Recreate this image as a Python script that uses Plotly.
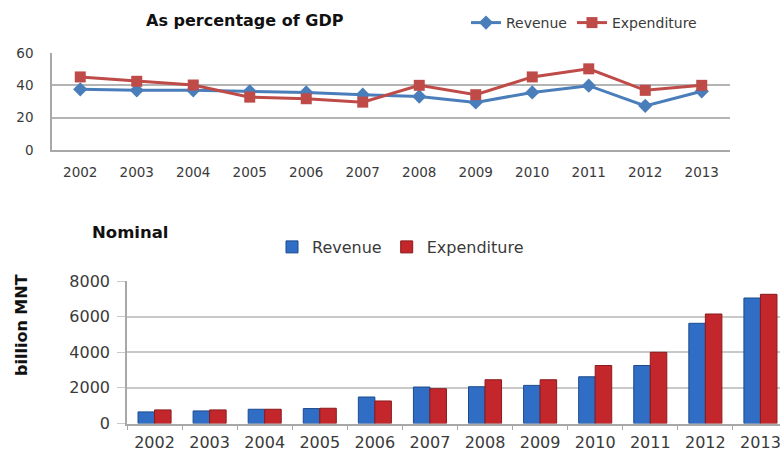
import plotly.graph_objects as go

# Fiscal data, 2002-2013
years = [str(y) for y in range(2002, 2014)]

# Revenue and expenditure as percentage of GDP
gdp_revenue = [37.5, 36.9, 36.9, 36.3, 35.6, 34.2, 33.1, 29.4, 35.6, 39.8, 27.3, 36.3]
gdp_expenditure = [45.2, 42.5, 40.2, 32.7, 31.7, 29.6, 40.0, 34.2, 45.2, 50.2, 36.9, 40.0]

# Nominal revenue and expenditure, billion MNT
nominal_revenue = [651, 707, 800, 837, 1488, 2047, 2065, 2140, 2623, 3256, 5625, 7045]
nominal_expenditure = [763, 763, 800, 856, 1265, 1953, 2456, 2456, 3256, 3997, 6147, 7253]

W, H = 780, 459
FONT = "DejaVu Sans"
TICK_COLOR = "#3a3a3a"
BLUE_LINE = "#4a7ebb"
RED_LINE = "#be4b48"
BLUE_BAR = "#2f6ec4"
RED_BAR = "#c4272b"

fig = go.Figure()

# Upper panel: shares of GDP
fig.add_trace(go.Scatter(
    x=years, y=gdp_revenue, name="Revenue", mode="lines+markers",
    line=dict(color=BLUE_LINE, width=3),
    marker=dict(symbol="diamond", size=11, color=BLUE_LINE),
    xaxis="x", yaxis="y", legend="legend",
))
fig.add_trace(go.Scatter(
    x=years, y=gdp_expenditure, name="Expenditure", mode="lines+markers",
    line=dict(color=RED_LINE, width=3),
    marker=dict(symbol="square", size=11, color=RED_LINE),
    xaxis="x", yaxis="y", legend="legend",
))

# Lower panel: nominal values
fig.add_trace(go.Bar(
    x=years, y=nominal_revenue, name="Revenue",
    marker=dict(color=BLUE_BAR, line=dict(color="#1d4a8c", width=1)),
    xaxis="x2", yaxis="y2", legend="legend2",
))
fig.add_trace(go.Bar(
    x=years, y=nominal_expenditure, name="Expenditure",
    marker=dict(color=RED_BAR, line=dict(color="#8a1a1c", width=1)),
    xaxis="x2", yaxis="y2", legend="legend2",
))

axis_gray = "#a8a8a8"
grid_top = "#b4b4b4"
grid_bottom = "#c9c9c9"

fig.update_layout(
    width=W, height=H,
    margin=dict(l=0, r=0, t=0, b=0, autoexpand=False),
    paper_bgcolor="white", plot_bgcolor="white",
    barmode="group", bargap=0.4, bargroupgap=0.0,
    font=dict(family=FONT, color=TICK_COLOR),
    xaxis=dict(
        domain=[52 / W, 730 / W], anchor="y", type="category",
        range=[-0.5, 11.5], showgrid=False,
        showline=True, linecolor=axis_gray, linewidth=1.5,
        ticks="", tickfont=dict(family=FONT, size=13.5, color=TICK_COLOR),
        ticklabelstandoff=9,
    ),
    yaxis=dict(
        domain=[1 - 150 / H, 1 - 53 / H], anchor="x",
        range=[0, 60], dtick=20, showgrid=True, gridcolor=grid_top, gridwidth=1.5,
        zeroline=False, showline=True, linecolor=axis_gray, linewidth=1.5,
        ticks="", tickfont=dict(family=FONT, size=13.5, color=TICK_COLOR),
        ticklabelstandoff=14,
    ),
    xaxis2=dict(
        domain=[127 / W, 1.0], anchor="y2", type="category",
        range=[-0.5, 11.355], showgrid=False,
        showline=True, linecolor=axis_gray, linewidth=1.5,
        ticks="outside", tickson="boundaries", ticklen=5, tickcolor=axis_gray,
        tickfont=dict(family=FONT, size=16, color=TICK_COLOR),
        ticklabelstandoff=4,
    ),
    yaxis2=dict(
        domain=[1 - 423.5 / H, 1 - 281 / H], anchor="x2",
        range=[0, 8000], dtick=2000, showgrid=True, gridcolor=grid_bottom, gridwidth=1.5,
        zeroline=False, showline=True, linecolor=axis_gray, linewidth=1.5,
        ticks="outside", ticklen=8, tickcolor=grid_bottom,
        tickfont=dict(family=FONT, size=16, color=TICK_COLOR),
        ticklabelstandoff=4,
    ),
    legend=dict(
        orientation="h", x=466 / W, xanchor="left", y=1 - 23 / H, yanchor="middle",
        font=dict(family=FONT, size=14, color=TICK_COLOR),
        bgcolor="rgba(0,0,0,0)", itemclick=False, itemdoubleclick=False,
    ),
    legend2=dict(
        orientation="h", x=272 / W, xanchor="left", y=1 - 247 / H, yanchor="middle",
        font=dict(family=FONT, size=16, color=TICK_COLOR),
        bgcolor="rgba(0,0,0,0)", itemclick=False, itemdoubleclick=False,
    ),
    annotations=[
        dict(text="<b>As percentage of GDP</b>", x=245 / W, y=1 - 20 / H,
             xanchor="center", yanchor="middle",
             xref="paper", yref="paper", showarrow=False,
             font=dict(family=FONT, size=16, color="#111111")),
        dict(text="<b>Nominal</b>", x=130 / W, y=1 - 232 / H,
             xanchor="center", yanchor="middle",
             xref="paper", yref="paper", showarrow=False,
             font=dict(family=FONT, size=16.5, color="#111111")),
        dict(text="<b>billion MNT</b>", x=21 / W, y=1 - 325 / H, textangle=-90,
             xanchor="center", yanchor="middle",
             xref="paper", yref="paper", showarrow=False,
             font=dict(family=FONT, size=16, color="#111111")),
    ],
)

fig.write_html("out.html")
